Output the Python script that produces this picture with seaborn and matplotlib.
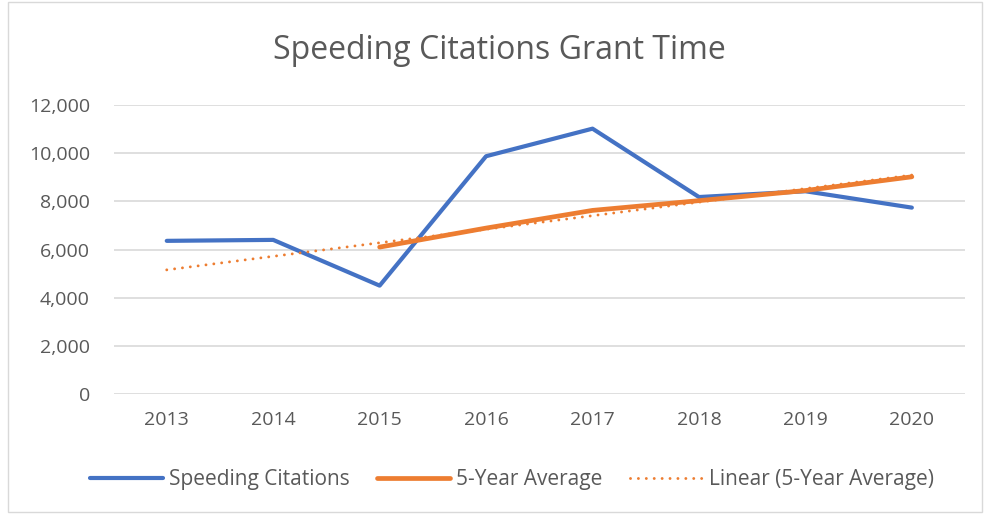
import numpy as np
import pandas as pd
import seaborn as sns
import matplotlib.pyplot as plt
from matplotlib.patches import Rectangle
from matplotlib.ticker import FuncFormatter

## data
years = [2013, 2014, 2015, 2016, 2017, 2018, 2019, 2020]
citations = [6360, 6400, 4500, 9875, 11020, 8180, 8420, 7740]
five_year_avg = [np.nan, np.nan, 6100, 6890, 7625, 8030, 8450, 9020]

blue = '#4472C4'
orange = '#ED7D31'
grey = '#595959'

sns.set_theme(style='white')
plt.rcParams['font.family'] = ['Open Sans', 'DejaVu Sans']

df = pd.DataFrame({'pos': range(len(years)), 'year': years,
                   'cit': citations, 'avg': five_year_avg})

# Excel-style linear trendline over the category index, drawn across all years
ok = df['avg'].notna()
k, b = np.polyfit(df.loc[ok, 'pos'], df.loc[ok, 'avg'], 1)
df['trend'] = k * df['pos'] + b

fig = plt.figure(figsize=(9.89, 5.15), dpi=100)
ax = fig.add_axes([0.1148, 0.235, 0.861, 0.561])

sns.lineplot(data=df, x='pos', y='cit', ax=ax, color=blue, lw=3.0,
             label='Speeding Citations', solid_capstyle='round')
sns.lineplot(data=df[ok], x='pos', y='avg', ax=ax, color=orange, lw=3.4,
             label='5-Year Average', solid_capstyle='round')
sns.lineplot(data=df, x='pos', y='trend', ax=ax, color=orange, lw=2.1,
             linestyle=(0, (0.01, 2.7)), dash_capstyle='round',
             label='Linear (5-Year Average)')

ax.set_xlim(-0.5, len(years) - 0.5)
ax.set_ylim(0, 12000)
ax.set_yticks(range(0, 12001, 2000))
ax.yaxis.set_major_formatter(FuncFormatter(lambda v, p: f'{int(v):,}'))
ax.set_xticks(range(len(years)))
ax.set_xticklabels([str(y) for y in years])
ax.grid(axis='y', color='#d9d9d9', lw=1.2)
ax.set_axisbelow(True)
for s in ax.spines.values():
    s.set_visible(False)
ax.tick_params(axis='both', colors=grey, labelsize=14, length=0)
ax.tick_params(axis='y', pad=17)
ax.tick_params(axis='x', pad=12)
ax.set_xlabel('')
ax.set_ylabel('')

fig.text(0.505, 0.901, 'Speeding Citations Grant Time', ha='center', va='center',
         fontsize=23, color=grey)

leg = ax.legend(loc='center', bbox_to_anchor=(0.468, -0.297), ncol=3,
                frameon=False, fontsize=15, handlelength=3.5,
                columnspacing=1.3, handletextpad=0.3)
for t in leg.get_texts():
    t.set_color(grey)

fig.patches.append(Rectangle((0.008, 0.006), 0.985, 0.99, transform=fig.transFigure,
                             fill=False, edgecolor='#d9d9d9', lw=1))

fig.savefig('out.png', dpi=100)
